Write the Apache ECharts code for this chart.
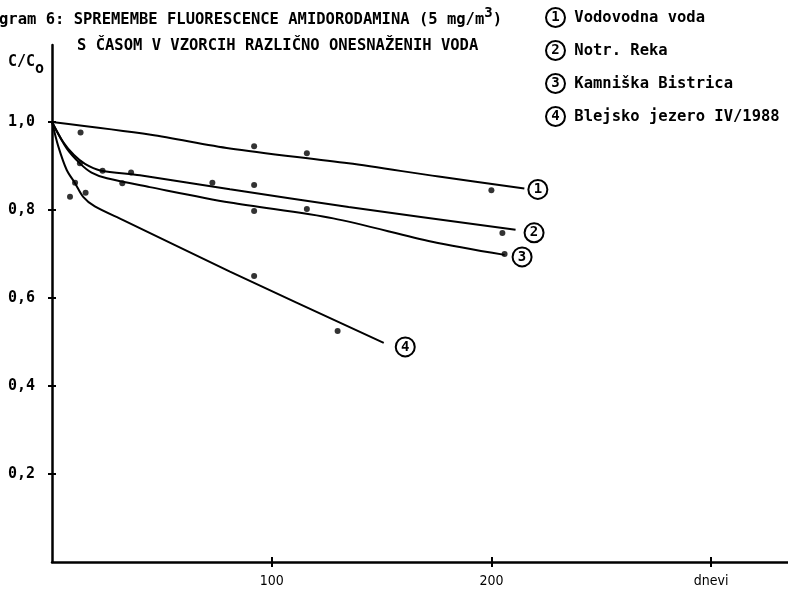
<!DOCTYPE html>
<html>
<head>
<meta charset="utf-8">
<script src="https://cdn.jsdelivr.net/npm/echarts@6/dist/echarts.min.js"></script>
<style>html,body{margin:0;padding:0;background:#fff}#c{width:788px;height:591px}</style>
</head>
<body>
<div id="c"></div>
<script>
var seriesNames = ['Vodovodna voda', 'Notr. Reka', 'Kamniška Bistrica', 'Blejsko jezero IV/1988'];
var seriesNums = ['1', '2', '3', '4'];
var curve1 = [[0,1.0],[45,0.971],[81,0.94],[135,0.906],[176,0.876],[215,0.849]];
var curve2 = [[0,1.0],[5,0.955],[10,0.925],[15,0.905],[22,0.89],[40,0.879],[81,0.847],[135,0.807],[211,0.755]];
var curve3 = [[0,1.0],[6.7,0.94],[12.7,0.906],[18,0.885],[25,0.872],[44.5,0.852],[81,0.817],[128,0.781],[173,0.728],[206,0.698]];
var curve4 = [[0,1.0],[2.9,0.944],[6.7,0.891],[10.5,0.861],[14.2,0.83],[19.5,0.808],[32.4,0.777],[81,0.66],[151,0.498]];
var dots1 = [[13,0.976],[92,0.945],[116,0.929],[200,0.845]];
var dots2 = [[23,0.889],[36,0.885],[73,0.862],[92,0.857],[205,0.748]];
var dots3 = [[12.7,0.906],[32,0.861],[92,0.798],[116,0.802],[206,0.70]];
var dots4 = [[8.2,0.83],[10.5,0.862],[15.3,0.839],[92,0.65],[130,0.525]];
var yTickLabels = {'0.2':'0,2','0.4':'0,4','0.6':'0,6','0.8':'0,8','1':'1,0'};
var xTickLabels = {'100':'100','200':'200','300':'dnevi'};

var curves = [curve1, curve2, curve3, curve4];
var dots = [dots1, dots2, dots3, dots4];
var endOffsets = [[0,1],[5,3],[4,2],[8,4]];

var MONO = '"DejaVu Sans Mono", "Liberation Mono", monospace';
var circleRich = {
  c: {width: 17, height: 17, lineHeight: 17, borderRadius: 12, borderWidth: 2, borderColor: '#000',
      align: 'center', fontFamily: MONO, fontWeight: 'bold', fontSize: 14, color: '#000', padding: [1,1,1,1]}
};

var series = [];
curves.forEach(function (c, i) {
  series.push({
    name: seriesNames[i], type: 'line', data: c, smooth: 0.3, showSymbol: false,
    lineStyle: {color: '#000', width: 2}, itemStyle: {color: '#000'},
    endLabel: {show: true, formatter: '{c|' + seriesNums[i] + '}', rich: circleRich,
      distance: 4, offset: endOffsets[i]},
    z: 3
  });
});
dots.forEach(function (d, i) {
  series.push({
    name: seriesNames[i] + ' ', type: 'scatter', data: d, symbol: 'circle', symbolSize: 6,
    itemStyle: {color: '#000'}, z: 4
  });
});

var axisCommonX = {type: 'value', min: 0, max: 335, interval: 100};
var axisCommonY = {type: 'value', min: 0, max: 1.175, interval: 0.2};

var chart = echarts.init(document.getElementById('c'), null, {renderer: 'canvas'});
chart.setOption({
  animation: false,
  backgroundColor: '#fff',
  title: [
    {text: 'gram 6: SPREMEMBE FLUORESCENCE AMIDORODAMINA (5 mg/m{s|3})', left: -1, top: 6, padding: 0,
     textStyle: {fontFamily: MONO, fontWeight: 'bold', fontSize: 15.5, color: '#000',
       rich: {s: {fontFamily: MONO, fontWeight: 'bold', fontSize: 14, verticalAlign: 'top', padding: [0,0,13,0], color: '#000'}}}},
    {text: 'S ČASOM V VZORCIH RAZLIČNO ONESNAŽENIH VODA', left: 77, top: 38, padding: 0,
     textStyle: {fontFamily: MONO, fontWeight: 'bold', fontSize: 15.5, color: '#000'}},
    {text: 'C/C{o|o}', left: 8, top: 48, padding: 0,
     textStyle: {fontFamily: MONO, fontWeight: 'bold', fontSize: 15, color: '#000',
       rich: {o: {fontFamily: MONO, fontWeight: 'bold', fontSize: 15, padding: [14,0,0,0], color: '#000'}}}}
  ],
  legend: {
    data: seriesNames, orient: 'vertical', left: 541, top: 7, itemGap: 12, padding: 0,
    itemWidth: 0, itemHeight: 0, icon: 'rect', selectedMode: false,
    formatter: function (n) { return '{c|' + seriesNums[seriesNames.indexOf(n)] + '} ' + n; },
    textStyle: {fontFamily: MONO, fontWeight: 'bold', fontSize: 15.5, color: '#000', rich: circleRich}
  },
  grid: {left: 52, right: 0, top: 45, bottom: 29, containLabel: false},
  xAxis: [Object.assign({}, axisCommonX, {
    axisLine: {show: true, lineStyle: {color: '#000', width: 2.5}},
    axisTick: {show: true, length: 5, lineStyle: {color: '#000', width: 2}},
    axisLabel: {showMinLabel: false, showMaxLabel: false, margin: 12, color: '#000',
      fontFamily: '"DejaVu Sans Condensed", "DejaVu Sans", sans-serif', fontSize: 14,
      formatter: function (v) { return xTickLabels[String(v)] || ''; }},
    splitLine: {show: false}
  }), Object.assign({}, axisCommonX, {
    position: 'bottom', offset: 0,
    axisLine: {show: false}, axisLabel: {show: false}, splitLine: {show: false},
    axisTick: {show: true, inside: true, length: 5, lineStyle: {color: '#000', width: 2},
      customValues: [100, 200, 300]}
  })],
  yAxis: [Object.assign({}, axisCommonY, {
    axisLine: {show: true, lineStyle: {color: '#000', width: 2.5}},
    axisTick: {show: true, length: 4, lineStyle: {color: '#000', width: 2}},
    axisLabel: {showMinLabel: false, showMaxLabel: false, margin: 17, color: '#000',
      fontFamily: MONO, fontWeight: 'bold', fontSize: 15,
      formatter: function (v) { return yTickLabels[String(Math.round(v*10)/10)] || ''; }},
    splitLine: {show: false}
  }), Object.assign({}, axisCommonY, {
    position: 'left', offset: 0,
    axisLine: {show: false}, axisLabel: {show: false}, splitLine: {show: false},
    axisTick: {show: true, inside: true, length: 4, lineStyle: {color: '#000', width: 2},
      customValues: [0.2, 0.4, 0.6, 0.8, 1.0]}
  })],
  series: series
});
</script>
</body>
</html>
